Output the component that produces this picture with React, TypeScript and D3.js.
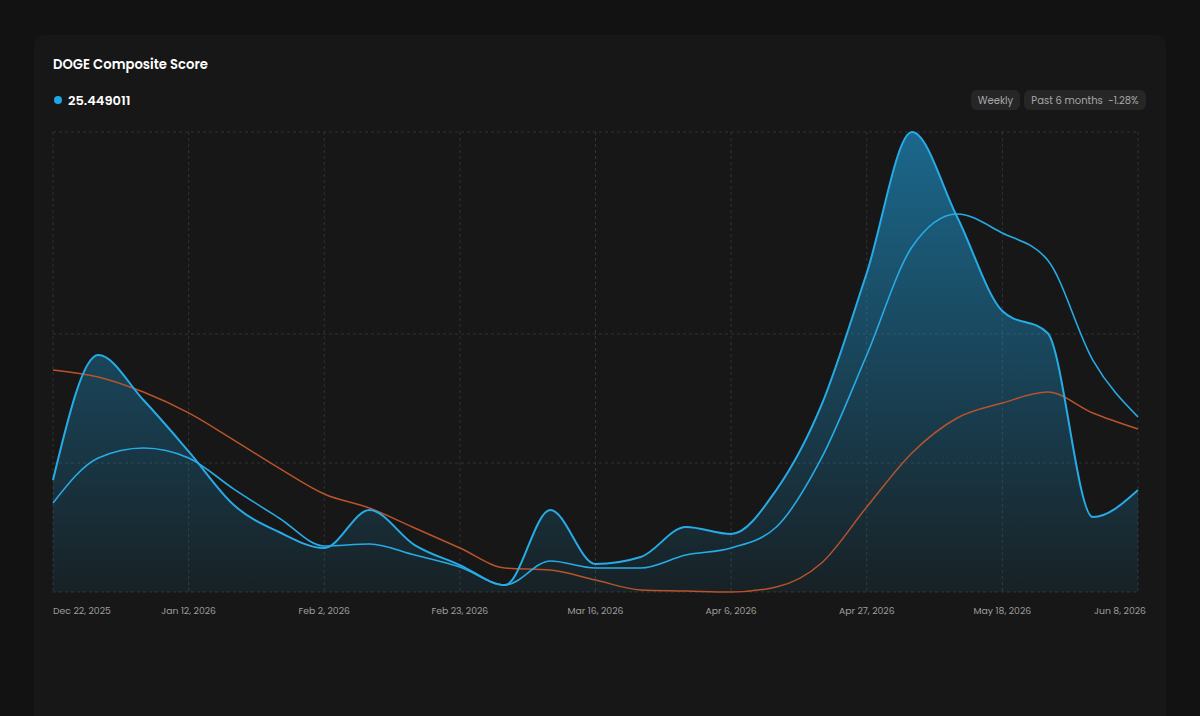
import React from 'react';
import * as d3 from 'd3';

const weeks: string[] = [
  '2025-12-22', '2025-12-29', '2026-01-05', '2026-01-12', '2026-01-19', '2026-01-26',
  '2026-02-02', '2026-02-09', '2026-02-16', '2026-02-23', '2026-03-02', '2026-03-09',
  '2026-03-16', '2026-03-23', '2026-03-30', '2026-04-06', '2026-04-13', '2026-04-20',
  '2026-04-27', '2026-05-04', '2026-05-11', '2026-05-18', '2026-05-25', '2026-06-01',
  '2026-06-08',
];

// main series (filled)
const composite: number[] = [
  8.68, 18.37, 14.88, 10.9, 6.74, 4.65, 3.41, 6.36, 3.64, 2.09, 0.54, 6.36, 2.17,
  2.71, 5.04, 4.5, 7.91, 14.5, 24.73, 35.66, 29.07, 21.78, 20.08, 5.81, 7.91,
];

// smoothed series
const smoothed: number[] = [
  6.9, 10.39, 11.16, 10.39, 7.98, 5.74, 3.57, 3.72, 2.87, 1.94, 0.54, 2.4, 1.86,
  1.86, 2.87, 3.41, 5.04, 10.39, 18.37, 26.74, 29.3, 27.83, 25.74, 17.98, 13.57,
];

// long average
const longAvg: number[] = [
  17.21, 16.67, 15.5, 13.88, 11.78, 9.61, 7.6, 6.51, 4.96, 3.41, 1.86, 1.71, 0.93,
  0.16, 0.08, 0, 0.39, 2.25, 6.59, 10.78, 13.49, 14.65, 15.5, 13.88, 12.64,
];

const tickDates: string[] = [
  '2025-12-22', '2026-01-12', '2026-02-02', '2026-02-23', '2026-03-16',
  '2026-04-06', '2026-04-27', '2026-05-18', '2026-06-08',
];
const gridValues: number[] = [0, 10, 20];

const currentValue = '25.449011';

const W = 1200;
const H = 716;
const margin = { left: 53, right: 62, top: 132, bottom: 124 };
const FONT = 'Poppins, Inter, "Noto Sans", sans-serif';

const App: React.FC = () => {
  const parse = d3.timeParse('%Y-%m-%d');
  const dates = weeks.map(d => parse(d) as Date);
  const ticks = tickDates.map(d => parse(d) as Date);
  const fmt = d3.timeFormat('%b %-d, %Y');

  const x = d3.scaleTime()
    .domain(d3.extent(dates) as [Date, Date])
    .range([margin.left, W - margin.right]);
  const y = d3.scaleLinear()
    .domain([0, d3.max(composite) as number])
    .range([H - margin.bottom, margin.top]);

  const line = d3.line<number>()
    .x((_, i) => x(dates[i]))
    .y(d => y(d))
    .curve(d3.curveMonotoneX);
  const area = d3.area<number>()
    .x((_, i) => x(dates[i]))
    .y0(y(0))
    .y1(d => y(d))
    .curve(d3.curveMonotoneX);

  const [x0, x1] = x.range();
  const gridYs = [...gridValues.map(v => y(v)), y.range()[1]];

  return (
    <div style={{ position: 'fixed', left: 0, top: 0, width: W, height: H, background: '#121212' }}>
      <svg width={W} height={H} style={{ display: 'block', fontFamily: FONT }}>
        <defs>
          <linearGradient id="fillGrad" x1="0" y1={margin.top} x2="0" y2={H - margin.bottom} gradientUnits="userSpaceOnUse">
            <stop offset="0%" stopColor="#1ea7e8" stopOpacity={0.56} />
            <stop offset="100%" stopColor="#1ea7e8" stopOpacity={0.07} />
          </linearGradient>
        </defs>
        <rect x={34} y={35} width={1132} height={700} rx={10} fill="#171717" />

        <text x={53} y={69} fill="#ffffff" fontSize={13.2} fontWeight={600}>DOGE Composite Score</text>
        <circle cx={58} cy={100} r={4} fill="#1ea7e8" />
        <text x={68} y={104.5} fill="#ffffff" fontSize={13} fontWeight={600}>{currentValue}</text>

        <g fontSize={10} fill="#a8a8a8">
          <rect x={971} y={90} width={49} height={20} rx={6} fill="#262626" />
          <text x={995.5} y={103.5} textAnchor="middle">Weekly</text>
          <rect x={1024} y={90} width={122} height={20} rx={6} fill="#262626" />
          <text x={1085} y={103.5} textAnchor="middle" style={{ whiteSpace: 'pre' }}>Past 6 months  -1.28%</text>
        </g>

        <g stroke="#333333" strokeWidth={1} strokeDasharray="3,3" fill="none">
          {gridYs.map((gy, i) => (
            <line key={'h' + i} x1={x0} x2={x1} y1={gy} y2={gy} />
          ))}
          {ticks.map((t, i) => (
            <line key={'v' + i} x1={x(t)} x2={x(t)} y1={margin.top} y2={H - margin.bottom} />
          ))}
        </g>

        <path d={area(composite) as string} fill="url(#fillGrad)" />
        <path d={line(longAvg) as string} fill="none" stroke="#b8532a" strokeWidth={1.5} />
        <path d={line(smoothed) as string} fill="none" stroke="#27abe6" strokeWidth={1.6} />
        <path d={line(composite) as string} fill="none" stroke="#27abe6" strokeWidth={2} />

        <g fontSize={9.3} fill="#9e9e9e">
          {ticks.map((t, i) => {
            const last = i === ticks.length - 1;
            const first = i === 0;
            return (
              <text
                key={i}
                x={first ? x(t) : last ? x(t) + 8 : x(t)}
                y={614}
                textAnchor={first ? 'start' : last ? 'end' : 'middle'}
              >
                {fmt(t)}
              </text>
            );
          })}
        </g>
      </svg>
    </div>
  );
};

export default App;
